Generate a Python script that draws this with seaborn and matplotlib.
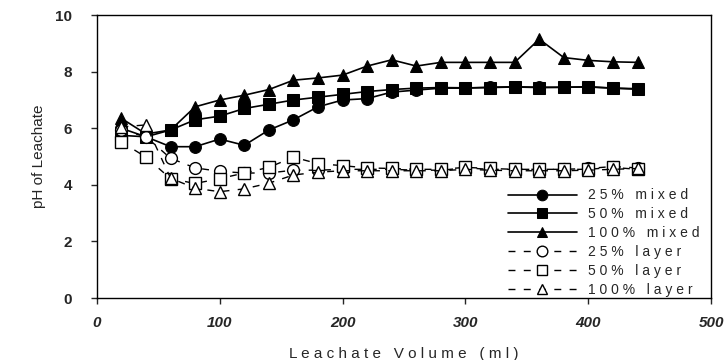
import pandas as pd
import matplotlib.pyplot as plt
import seaborn as sns

sns.set_style("ticks")
plt.rcParams['font.family'] = ['Liberation Sans', 'DejaVu Sans']

volume = [20, 40, 60, 80, 100, 120, 140, 160, 180, 200, 220, 240,
          260, 280, 300, 320, 340, 360, 380, 400, 420, 440]

mixed_25 = [6.0, 5.7, 5.35, 5.35, 5.62, 5.4, 5.94, 6.3, 6.76, 7.0, 7.05, 7.28,
            7.35, 7.42, 7.42, 7.45, 7.47, 7.45, 7.45, 7.47, 7.42, 7.4]
mixed_50 = [5.75, 5.7, 5.94, 6.3, 6.43, 6.7, 6.85, 7.0, 7.1, 7.2, 7.3, 7.37,
            7.42, 7.44, 7.43, 7.44, 7.46, 7.44, 7.45, 7.46, 7.42, 7.38]
mixed_100 = [6.35, 5.8, 5.94, 6.76, 7.0, 7.17, 7.37, 7.7, 7.78, 7.88, 8.2, 8.42,
             8.2, 8.33, 8.33, 8.33, 8.33, 9.15, 8.5, 8.4, 8.35, 8.33]
layer_25 = [5.95, 5.7, 4.94, 4.6, 4.48, 4.42, 4.42, 4.52, 4.52, 4.55, 4.55, 4.55,
            4.52, 4.52, 4.6, 4.55, 4.55, 4.55, 4.55, 4.58, 4.65, 4.6]
layer_50 = [5.52, 4.98, 4.22, 4.05, 4.22, 4.42, 4.62, 4.98, 4.75, 4.68, 4.6, 4.58,
            4.55, 4.55, 4.62, 4.58, 4.55, 4.55, 4.55, 4.55, 4.62, 4.55]
layer_100 = [6.05, 6.12, 4.24, 3.88, 3.76, 3.86, 4.06, 4.35, 4.45, 4.5, 4.5, 4.5,
             4.5, 4.5, 4.55, 4.52, 4.5, 4.5, 4.5, 4.52, 4.55, 4.58]

labels = ['2 5 %   m i x e d', '5 0 %   m i x e d', '1 0 0 %   m i x e d',
          '2 5 %   l a y e r', '5 0 %   l a y e r', '1 0 0 %   l a y e r']
series = [mixed_25, mixed_50, mixed_100, layer_25, layer_50, layer_100]
markers = ['o', 's', '^', 'o', 's', '^']

fig = plt.figure(figsize=(7.28, 3.6), dpi=100)
ax = fig.add_axes([0.133, 0.172, 0.844, 0.786])

for lab, vals, mk in zip(labels, series, markers):
    df = pd.DataFrame({'volume': volume, 'ph': vals})
    if 'm i x' in lab:
        sns.lineplot(data=df, x='volume', y='ph', ax=ax, color='black', lw=1.2,
                     marker=mk, markersize=8.5, markerfacecolor='black',
                     markeredgecolor='black', label=lab)
    else:
        sns.lineplot(data=df, x='volume', y='ph', ax=ax, color='black', lw=1.0,
                     linestyle=(0, (5, 6)), marker=mk, markersize=8.5,
                     markerfacecolor='white', markeredgecolor='black',
                     markeredgewidth=1.0, label=lab)

ax.set_xlim(0, 500)
ax.set_ylim(0, 10)
ax.set_xticks([0, 100, 200, 300, 400, 500])
ax.set_yticks([0, 2, 4, 6, 8, 10])
ax.tick_params(axis='y', direction='out', length=4, width=1, labelsize=11, pad=14)
ax.tick_params(axis='x', direction='out', length=4, width=1, labelsize=11, pad=9)
for t in ax.get_xticklabels():
    t.set_fontstyle('italic')
    t.set_fontweight('bold')
for t in ax.get_yticklabels():
    t.set_fontweight('bold')
for s in ax.spines.values():
    s.set_linewidth(1.0)
    s.set_color('black')

ax.set_xlabel('L e a c h a t e   V o l u m e   ( m l )', fontsize=11, labelpad=12)
ax.set_ylabel('pH of Leachate', fontsize=11, labelpad=6)

leg = ax.legend(loc='lower right', bbox_to_anchor=(0.99, -0.015), frameon=False,
                fontsize=10, handlelength=5.0, labelspacing=0.35, borderaxespad=0.0,
                handletextpad=0.8, markerscale=0.9)

fig.savefig('out.png', dpi=100)
